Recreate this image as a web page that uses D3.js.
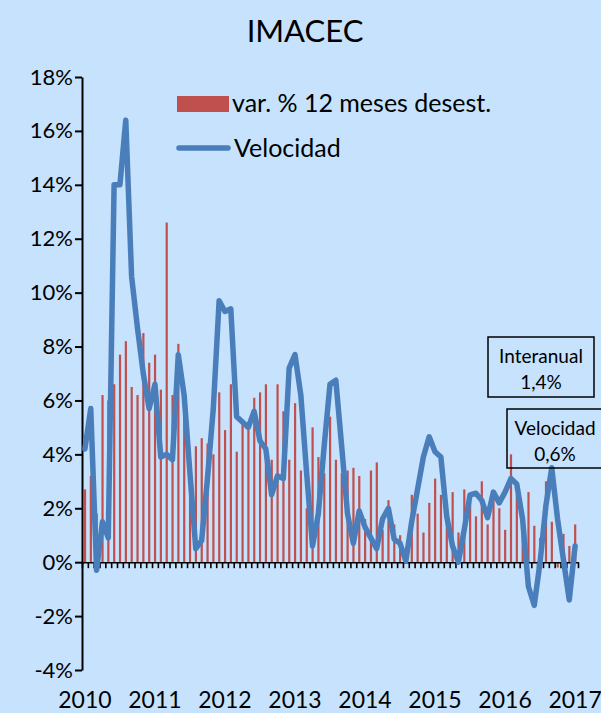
<!DOCTYPE html>
<html>
<head>
<meta charset="utf-8">
<script src="https://cdn.jsdelivr.net/npm/d3@7"></script>
<style>
  body { margin: 0; background: #c6e2fc; }
  svg { display: block; font-family: Lato, "Open Sans", sans-serif; }
</style>
</head>
<body>
<svg id="chart"></svg>
<script>
// monthly, Jan 2010 .. Jan 2017
const years = ["2010", "2011", "2012", "2013", "2014", "2015", "2016", "2017"];
const interanual = [
  2.7, 3.2, 1.8, 6.2, 6.0, 6.6, 7.7, 8.2, 6.5, 6.2, 8.5, 7.4,
  7.7, 6.4, 12.6, 6.2, 8.1, 5.5, 3.0, 4.3, 4.6, 4.4, 4.0, 6.3,
  4.9, 6.6, 4.1, 5.2, 4.9, 6.1, 6.3, 6.6, 3.8, 6.6, 5.6, 3.8,
  5.9, 3.4, 2.0, 5.0, 3.9, 3.3, 5.4, 3.8, 3.3, 3.4, 3.5, 3.2,
  1.6, 3.4, 3.7, 1.2, 2.3, 1.4, 1.0, 0.5, 2.5, 1.8, 1.1, 2.2,
  3.1, 2.5, 1.5, 2.6, 1.1, 2.7, 2.2, 1.7, 3.0, 1.4, 2.6, 2.0,
  1.2, 4.0, 2.5, 1.3, 2.6, 1.35, 0.9, 3.0, 1.5, -0.2, 1.05, 0.6,
  1.4
];
const velocidad = [
  4.2, 5.7, -0.3, 1.5, 0.9, 14.0, 14.0, 16.4, 10.6, 8.7, 7.0, 5.7,
  6.6, 3.9, 4.0, 3.8, 7.7, 6.2, 3.3, 0.5, 0.8, 3.1, 5.7, 9.7,
  9.3, 9.4, 5.4, 5.2, 5.0, 5.6, 4.5, 4.2, 2.5, 3.2, 3.1, 7.2,
  7.7, 6.2, 3.3, 0.6, 1.8, 4.3, 6.6, 6.75, 4.3, 1.8, 0.7, 1.9,
  1.3, 0.9, 0.5, 1.6, 2.0, 0.85, 0.7, 0.05, 1.5, 2.7, 3.9, 4.65,
  4.1, 3.9, 1.7, 0.6, 0.0, 1.2, 2.5, 2.56, 2.3, 1.65, 2.6, 2.2,
  2.6, 3.1, 2.9, 1.6, -0.9, -1.6, 0.0, 2.1, 3.5, 1.6, 0.1, -1.4,
  0.6
];
const yTicks = [-4, -2, 0, 2, 4, 6, 8, 10, 12, 14, 16, 18];

const width = 601, height = 713;
const plotLeft = 82, plotRight = 578, plotTop = 77, plotBottom = 670;

const svg = d3.select("#chart").attr("width", width).attr("height", height);

svg.append("rect").attr("width", width).attr("height", height).attr("fill", "#c6e2fc");

svg.append("text")
  .attr("x", 305).attr("y", 42)
  .attr("text-anchor", "middle")
  .attr("font-size", 31)
  .text("IMACEC");

const idx = d3.range(interanual.length);
const x = d3.scaleBand().domain(idx).range([plotLeft, plotRight]).padding(0);
const xb = d3.scaleLinear().domain([0, idx.length]).range([plotLeft, plotRight]);
const y = d3.scaleLinear().domain([-4, 18]).range([plotBottom, plotTop]);
const cx = (i) => x(i) + x.bandwidth() / 2;

// bars
svg.append("g")
  .selectAll("rect")
  .data(interanual)
  .enter()
  .append("rect")
  .attr("x", (d, i) => cx(i) - 1)
  .attr("y", (d) => y(Math.max(0, d)))
  .attr("width", 2.2)
  .attr("height", (d) => Math.abs(y(d) - y(0)))
  .attr("fill", "#c0504d");

// y axis
const yAxis = d3.axisLeft(y)
  .tickValues(yTicks)
  .tickSize(7)
  .tickSizeOuter(0)
  .tickPadding(2)
  .tickFormat((d) => d + "%");

const gy = svg.append("g").attr("transform", "translate(" + plotLeft + ",0)").call(yAxis);
gy.selectAll("text").attr("font-size", 22).attr("font-family", "Lato, sans-serif").attr("fill", "#000");
gy.selectAll("line, path").attr("stroke", "#000").attr("stroke-width", 2);

// x axis along 0%, ticks between months
const xAxis = d3.axisBottom(xb)
  .tickValues(d3.range(0, idx.length + 1))
  .tickSize(6)
  .tickSizeOuter(0)
  .tickFormat("");

const gx = svg.append("g").attr("transform", "translate(0," + y(0) + ")").call(xAxis);
gx.selectAll("line, path").attr("stroke", "#000").attr("stroke-width", 1.6);

// year labels at January
svg.append("g")
  .selectAll("text")
  .data(years)
  .enter()
  .append("text")
  .attr("x", (d, k) => cx(k * 12))
  .attr("y", 708)
  .attr("text-anchor", "middle")
  .attr("font-size", 23)
  .text((d) => d);

// line
const line = d3.line().x((d, i) => cx(i)).y((d) => y(d));
svg.append("path")
  .datum(velocidad)
  .attr("d", line)
  .attr("fill", "none")
  .attr("stroke", "#4a7ebb")
  .attr("stroke-width", 5.5)
  .attr("stroke-linejoin", "round")
  .attr("stroke-linecap", "round");

// legend
svg.append("rect").attr("x", 177).attr("y", 96).attr("width", 52).attr("height", 16).attr("fill", "#c0504d");
svg.append("text").attr("x", 232).attr("y", 112).attr("font-size", 25).text("var. % 12 meses desest.");
svg.append("line").attr("x1", 179).attr("x2", 228).attr("y1", 148).attr("y2", 148)
  .attr("stroke", "#4a7ebb").attr("stroke-width", 5.5).attr("stroke-linecap", "round");
svg.append("text").attr("x", 234).attr("y", 157).attr("font-size", 25).text("Velocidad");

// annotation boxes
function box(x0, y0, w, h, lines, cxText) {
  svg.append("rect").attr("x", x0).attr("y", y0).attr("width", w).attr("height", h)
    .attr("fill", "none").attr("stroke", "#000").attr("stroke-width", 1.5);
  lines.forEach((t, k) => {
    svg.append("text").attr("x", cxText).attr("y", y0 + 26 + k * 26)
      .attr("text-anchor", "middle").attr("font-size", 19).text(t);
  });
}
box(488, 337, 106, 60, ["Interanual", "1,4%"], 541);
box(507, 409, 100, 59, ["Velocidad", "0,6%"], 555);
</script>
</body>
</html>
